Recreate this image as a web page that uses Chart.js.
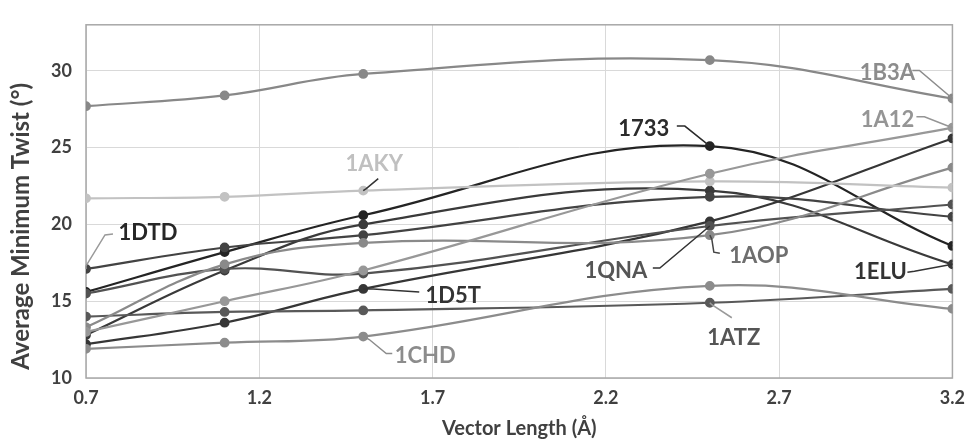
<!DOCTYPE html>
<html>
<head>
<meta charset="utf-8">
<script src="https://cdn.jsdelivr.net/npm/chart.js@4.4.1/dist/chart.umd.min.js"></script>
<style>
    html, body { margin: 0; padding: 0; background: #ffffff; }
    #wrap { width: 974px; height: 441px; }
</style>
</head>
<body>
<div id="wrap"><canvas id="twistChart" width="974" height="441"></canvas></div>
<script>
// Vector length (x) and average minimum twist per protein (y)
const vectorLengths = [0.7, 1.1, 1.5, 2.5, 3.2];
const xTickValues = [0.7, 1.2, 1.7, 2.2, 2.7, 3.2];
const yTickValues = [10, 15, 20, 25, 30];

const proteins = ['1B3A', '1A12', '1AKY', '1CHD', '1AOP', '1ATZ', '1QNA', '1DTD', '1D5T', '1ELU', '1733'];

const twist1B3A = [27.7, 28.4, 29.8, 30.7, 28.2];
const twist1A12 = [13.0, 15.0, 17.0, 23.3, 26.3];
const twist1AKY = [21.7, 21.8, 22.2, 22.8, 22.4];
const twist1CHD = [11.9, 12.3, 12.7, 16.0, 14.5];
const twist1AOP = [13.3, 17.4, 18.8, 19.3, 23.7];
const twist1ATZ = [14.0, 14.3, 14.4, 14.9, 15.8];
const twist1QNA = [15.5, 17.1, 16.8, 19.9, 21.3];
const twist1DTD = [17.1, 18.5, 19.3, 21.8, 20.5];
const twist1D5T = [12.2, 13.6, 15.8, 20.2, 25.6];
const twist1ELU = [12.8, 17.0, 20.0, 22.2, 17.4];
const twist1733 = [15.6, 18.2, 20.6, 25.1, 18.6];

const seriesValues = [twist1B3A, twist1A12, twist1AKY, twist1CHD, twist1AOP, twist1ATZ,
                      twist1QNA, twist1DTD, twist1D5T, twist1ELU, twist1733];

// Line shades (same order as proteins)
const lineColors = ['#888888', '#989898', '#c2c2c2', '#8c8c8c', '#8a8a8a', '#595959',
                    '#525252', '#434343', '#363636', '#3a3a3a', '#242424'];

// Callout labels: which point, text offset and leader elbows (pixels from point)
const callouts = [
    { name: '1B3A', point: 4, dx: -65, dy: -26, color: '#8c8c8c', path: [[-33, -28], [-40, -28]] },
    { name: '1A12', point: 4, dx: -65, dy: -8,  color: '#959595', path: [[-28, -11], [-36, -11]] },
    { name: '1733', point: 3, dx: -66, dy: -17, color: '#2b2b2b', path: [[-25, -20], [-33, -20]] },
    { name: '1AKY', point: 2, dx: 11,  dy: -27, color: '#c0c0c0', path: [[3, -2], [15, -12]], leaderColor: '#333333' },
    { name: '1DTD', point: 0, dx: 62,  dy: -36, color: '#262626', path: [[0, -3], [19, -34], [27, -35]], leaderColor: '#9a9a9a' },
    { name: '1D5T', point: 2, dx: 90,  dy: 7,   color: '#333333', path: [[10, 0], [56, 3]] },
    { name: '1CHD', point: 2, dx: 62,  dy: 19,  color: '#8c8c8c', path: [[6, 3], [23, 17], [29, 17]] },
    { name: '1QNA', point: 3, dx: -94, dy: 45,  color: '#555555', path: [[-50, 42], [-57, 42]], leaderColor: '#333333' },
    { name: '1AOP', point: 3, dx: 49,  dy: 21,  color: '#6e6e6e', path: [[2, 4], [4, 17], [10, 18]], leaderColor: '#444444' },
    { name: '1ELU', point: 4, dx: -72, dy: 8,   color: '#333333', path: [[-38, 7], [-45, 8]] },
    { name: '1ATZ', point: 3, dx: 24,  dy: 35,  color: '#555555', path: [[2, 2], [22, 15]], leaderColor: '#9a9a9a' }
];

const datasets = proteins.map(function(name, i) {
    return {
        label: name,
        data: vectorLengths.map(function(x, j) { return { x: x, y: seriesValues[i][j] }; }),
        borderColor: lineColors[i],
        backgroundColor: lineColors[i],
        pointBackgroundColor: lineColors[i],
        pointBorderColor: lineColors[i],
        borderWidth: 2.2,
        pointRadius: 3.8,
        pointHoverRadius: 3.8,
        tension: 0.4,
        fill: false
    };
});

// Plot frame, y title and the callout labels
const calloutPlugin = {
    id: 'callouts',
    beforeDatasetsDraw: function(chart) {
        const a = chart.chartArea;
        const ctx = chart.ctx;
        ctx.save();
        ctx.strokeStyle = '#a8a8a8';
        ctx.lineWidth = 1.5;
        ctx.strokeRect(a.left, a.top, a.right - a.left, a.bottom - a.top);
        // y axis title sits a bit below the plot centre in the original
        ctx.translate(21, (a.top + a.bottom) / 2 + 25);
        ctx.rotate(-Math.PI / 2);
        ctx.fillStyle = '#404040';
        ctx.font = 'bold 24px Lato';
        ctx.textAlign = 'center';
        ctx.textBaseline = 'middle';
        ctx.fillText('Average Minimum Twist (°)', 0, 0);
        ctx.restore();
    },
    afterDatasetsDraw: function(chart) {
        const ctx = chart.ctx;
        ctx.save();
        callouts.forEach(function(c) {
            const idx = proteins.indexOf(c.name);
            const pt = chart.getDatasetMeta(idx).data[c.point];
            ctx.strokeStyle = c.leaderColor || c.color;
            ctx.lineWidth = 1.5;
            ctx.beginPath();
            ctx.moveTo(pt.x, pt.y);
            c.path.forEach(function(p) { ctx.lineTo(pt.x + p[0], pt.y + p[1]); });
            ctx.stroke();
            ctx.fillStyle = c.color;
            ctx.font = 'bold 22px Lato';
            ctx.textAlign = 'center';
            ctx.textBaseline = 'middle';
            ctx.fillText(c.name, pt.x + c.dx, pt.y + c.dy);
        });
        ctx.restore();
    }
};

new Chart(document.getElementById('twistChart'), {
    type: 'line',
    data: { datasets: datasets },
    options: {
        responsive: false,
        animation: false,
        layout: { padding: { top: 12, right: 16, left: 0, bottom: 0 } },
        plugins: {
            legend: { display: false },
            tooltip: { enabled: false }
        },
        scales: {
            x: {
                type: 'linear',
                min: 0.7,
                max: 3.2,
                afterBuildTicks: function(scale) {
                    scale.ticks = xTickValues.map(function(v) { return { value: v }; });
                },
                afterFit: function(scale) { scale.height = 63; },
                grid: { color: '#d9d9d9', lineWidth: 1, drawTicks: false },
                border: { display: false },
                ticks: {
                    padding: 9,
                    color: '#404040',
                    font: { family: 'Lato', size: 18, weight: 'bold' },
                    callback: function(value) { return value.toFixed(1); }
                },
                title: {
                    display: true,
                    text: 'Vector Length (Å)',
                    color: '#404040',
                    font: { family: 'Lato', size: 20, weight: 'bold' },
                    padding: { top: 0, bottom: 0 }
                }
            },
            y: {
                min: 10,
                max: 33,
                afterBuildTicks: function(scale) {
                    scale.ticks = yTickValues.map(function(v) { return { value: v }; });
                },
                afterFit: function(scale) { scale.width = 86; },
                grid: { color: '#d9d9d9', lineWidth: 1, drawTicks: false },
                border: { display: false },
                ticks: {
                    padding: 14,
                    color: '#404040',
                    font: { family: 'Lato', size: 18, weight: 'bold' }
                }
            }
        }
    },
    plugins: [calloutPlugin]
});
</script>
</body>
</html>
